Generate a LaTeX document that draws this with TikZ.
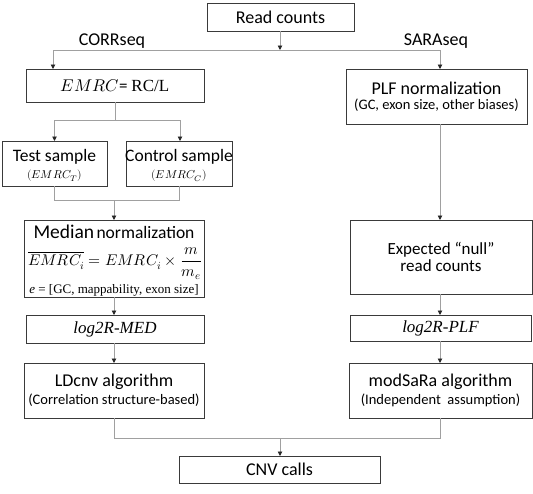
\documentclass[tikz,border=0pt]{standalone}
\usepackage{fontspec}
\usepackage{unicode-math}
\setmainfont{Carlito}
\setmathfont{Latin Modern Math}
\newfontfamily\tnr{Liberation Serif}
\usetikzlibrary{arrows.meta}
\definecolor{boxc}{HTML}{3A3A3A}
\definecolor{linec}{HTML}{A0A0A0}
\newcommand{\fs}[1]{\fontsize{#1}{1.2\dimexpr#1pt\relax}\selectfont}
\tikzset{
  box/.style={draw=boxc, line width=0.9pt, anchor=north west, inner sep=0pt, outer sep=0pt, align=center},
  conn/.style={draw=linec, line width=0.9pt},
  arr/.style={conn, -{Triangle[length=4.5pt,width=4.5pt,color=black!85]}},
  lab/.style={inner sep=0pt, font=\fs{18}},
  txt/.style={inner sep=0pt, align=center}
}
\begin{document}
\begin{tikzpicture}[x=1pt,y=-1pt]
\useasboundingbox (0,0) rectangle (533,493);
% nodes
\node[box, minimum width=147pt, minimum height=28pt, font=\fs{18}] (read) at (207,3) {Read counts};
\node[lab] (corr) at (112,41) {CORRseq};
\node[lab] (sara) at (436,41) {SARAseq};
\node[box, minimum width=178pt, minimum height=33pt] (emrc) at (26,69) {\fs{17}$EMRC$= {\tnr RC/L}};
\node[box, minimum width=181pt, minimum height=55pt] (plf) at (346,69) {{\fs{18}PLF normalization}\\[3pt]{\fs{14.5}(GC, exon size, other biases)}};
\node[box, minimum width=105pt, minimum height=45pt] (test) at (2,141) {};
\node[txt, font=\fs{17.5}] (testA) at (54.5,157) {Test sample};
\node[txt, font=\fs{11.5}] (testB) at (54.5,176) {$(EMRC_T)$};
\node[box, minimum width=106pt, minimum height=45pt] (ctrl) at (126,141) {};
\node[txt, font=\fs{17.5}] (ctrlA) at (179,157) {Control sample};
\node[txt, font=\fs{11.5}] (ctrlB) at (179,176) {$(EMRC_C)$};
\node[box, minimum width=180pt, minimum height=77pt] (med) at (24,220) {};
\node[txt] (medA) at (114,232) {{\fs{19.5}Median} {\fs{17.5}normalization}};
\node[txt] (medB) at (115,264) {\fs{15.5}$\overline{EMRC_i} = EMRC_i \times \dfrac{m}{m_e}$};
\node[txt] (medC) at (114,290) {\fs{13}\tnr \textit{e} = [GC, mappability, exon size]};
\node[box, minimum width=178pt, minimum height=28pt] (lmed) at (26,315) {\fs{17}\tnr\itshape log2R-MED};
\node[box, minimum width=180pt, minimum height=55pt] (ld) at (24,363) {{\fs{18}LDcnv algorithm}\\[3pt]{\fs{14.5}(Correlation structure-based)}};
\node[box, minimum width=182pt, minimum height=74pt] (exp) at (350,220) {{\fs{17}Expected “null”}\\[2pt]{\fs{17}read counts}};
\node[box, minimum width=181pt, minimum height=26pt] (lplf) at (350,315) {\fs{17}\tnr\itshape log2R-PLF};
\node[box, minimum width=183pt, minimum height=55pt] (mod) at (349,363) {{\fs{18}modSaRa algorithm}\\[3pt]{\fs{14.5}(Independent\ \ assumption)}};
\node[box, minimum width=201pt, minimum height=27pt, font=\fs{18}] (cnv) at (179,456) {CNV calls};
% coordinates
\coordinate (tl) at (53,50);
\coordinate (tr) at (440,50);
\coordinate (bl) at (54.5,120);
\coordinate (br) at (180,120);
\coordinate (ml) at (0,200);
\coordinate (bot) at (0,438);
\coordinate (cx) at (280,0);
% connectors
\draw[conn] (tl) -- (tr);
\draw[arr] (read.south -| cx) -- (cx |- tl);
\draw[arr] (tl) -- (tl |- emrc.north);
\draw[arr] (tr) -- (tr |- plf.north);
\draw[conn] (emrc.south) -- (emrc.south |- bl);
\draw[conn] (bl) -- (br);
\draw[arr] (bl) -- (bl |- test.north);
\draw[arr] (br) -- (br |- ctrl.north);
\draw[conn] (test.south) -- (test.south |- ml) -- (ctrl.south |- ml) -- (ctrl.south);
\draw[arr] (med.north |- ml) -- (med.north);
\draw[arr] (med.south) -- (lmed.north -| med.south);
\draw[arr] (lmed.south -| ld.north) -- (ld.north);
\draw[arr] (plf.south -| tr) -- (exp.north -| tr);
\draw[arr] (exp.south -| tr) -- (lplf.north -| tr);
\draw[arr] (lplf.south -| tr) -- (mod.north -| tr);
\draw[conn] (ld.south) -- (ld.south |- bot) -- (tr |- bot) -- (mod.south -| tr);
\draw[arr] (cx |- bot) -- (cnv.north -| cx);
\end{tikzpicture}
\end{document}
